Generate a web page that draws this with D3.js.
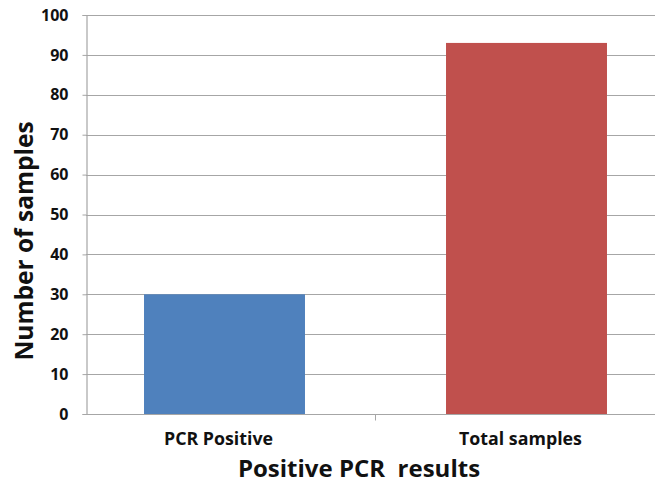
<!DOCTYPE html>
<html><head><meta charset="utf-8">
<script src="https://cdn.jsdelivr.net/npm/d3@7"></script>
<style>body{margin:0;background:#fff}</style>
</head><body>
<svg id="c" width="655" height="483"></svg>
<script>
const categories = ["PCR Positive", "Total samples"];
const values = [30, 93];
const colors = ["#4F81BD", "#C0504D"];
const yTicks = [0,10,20,30,40,50,60,70,80,90,100];
const yTitle = "Number of samples";
const xTitle = "Positive PCR  results";

(function(){
const svg = d3.select("#c");
const font = "'Open Sans', sans-serif";
const pl = 86, pr = 655, pt = 15, pb = 414;
const y = d3.scaleLinear().domain([0,100]).range([pb, pt]);
const x = d3.scaleBand().domain(categories).range([73.5, 677.5]).paddingInner(0.467).paddingOuter(0.2335);

// gridlines
svg.append("g").selectAll("line").data(yTicks.filter(d=>d>0)).join("line")
  .attr("x1", pl).attr("x2", pr)
  .attr("y1", d=>Math.round(y(d))+0.5).attr("y2", d=>Math.round(y(d))+0.5)
  .attr("stroke", "#a6a6a6").attr("stroke-width", 1.2);

// bars
svg.append("g").selectAll("rect").data(values).join("rect")
  .attr("x", (d,i)=>x(categories[i]))
  .attr("width", x.bandwidth())
  .attr("y", d=>y(d)).attr("height", d=>pb - y(d))
  .attr("fill", (d,i)=>colors[i]);

// y axis
const ya = svg.append("g").attr("transform", `translate(${pl+0.5},0)`)
  .call(d3.axisLeft(y).tickValues(yTicks).tickSize(4).tickPadding(14));
ya.select(".domain").attr("stroke", "#a6a6a6").attr("stroke-width", 1.2);
ya.selectAll(".tick line").attr("stroke", "#a6a6a6");
ya.selectAll("text").attr("font-family", font).attr("font-weight", "bold").attr("font-size", 16).attr("fill", "#111");

// x axis
const xa = svg.append("g").attr("transform", `translate(0,${pb+0.5})`);
xa.append("line").attr("x1", pl).attr("x2", pr).attr("stroke", "#a6a6a6").attr("stroke-width", 1.2);
const boundaries = [(x(categories[0]) + x.bandwidth() + x(categories[1]))/2];
xa.selectAll(".tk").data(boundaries).join("line").attr("class","tk")
  .attr("x1", d=>d).attr("x2", d=>d).attr("y1", 0).attr("y2", 6).attr("stroke", "#a6a6a6");
xa.selectAll("text").data(categories).join("text")
  .attr("x", d=>x(d)+x.bandwidth()/2 - 6).attr("y", 30.5)
  .attr("text-anchor", "middle")
  .attr("font-family", font).attr("font-weight", "bold").attr("font-size", 17.8).attr("fill", "#111")
  .text(d=>d);

// titles
svg.append("text").attr("transform", "translate(33,241) rotate(-90)")
  .attr("text-anchor", "middle").attr("font-family", font).attr("font-weight", "bold")
  .attr("font-size", 24.5).attr("fill", "#111").text(yTitle);
svg.append("text").attr("x", 359).attr("y", 477)
  .attr("text-anchor", "middle").attr("font-family", font).attr("font-weight", "bold")
  .attr("font-size", 24).attr("fill", "#111").style("white-space","pre").text(xTitle);
})();
</script>
</body></html>
